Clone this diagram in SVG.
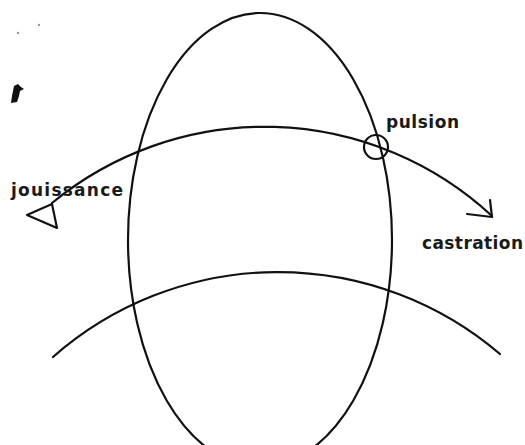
<svg xmlns="http://www.w3.org/2000/svg" width="525" height="445" viewBox="0 0 525 445">
<style>
.ln{fill:none;stroke:#111;stroke-width:2.2;stroke-linecap:round;stroke-linejoin:round}
.lbl{font-family:"DejaVu Sans","Liberation Sans",Arial,sans-serif;font-weight:bold;font-size:17px;fill:#1a1a1a}
</style>
<rect width="525" height="445" fill="#fff"/>
<g id="marks">
<circle cx="18" cy="33" r="1.2" fill="#999"/>
<circle cx="39" cy="25" r="1.2" fill="#999"/>
<path d="M14,86 L18,84 L21,87 L24,89 L20,91 L19,96 L17,102 L11,103 L12,96 Z" fill="#111"/>
</g>
<g id="connectors">
<ellipse class="ln" cx="260" cy="240" rx="132" ry="227"/>
<path class="ln" d="M52,203 A334.6,334.6 0 0 1 492,216"/>
<path class="ln" d="M53,357 A341,341 0 0 1 500,354"/>
<path class="ln" d="M467,214 L492,217 L490,200"/>
</g>
<g id="jouissance">
<polygon class="ln" points="27,215 52,204 57,228"/>
<text class="lbl" x="11" y="196" textLength="112" lengthAdjust="spacing">jouissance</text>
</g>
<g id="pulsion">
<circle class="ln" cx="376" cy="147" r="12"/>
<text class="lbl" x="386" y="128" textLength="73" lengthAdjust="spacing">pulsion</text>
</g>
<g id="castration">
<text class="lbl" x="422" y="249" textLength="101" lengthAdjust="spacing">castration</text>
</g>
</svg>
